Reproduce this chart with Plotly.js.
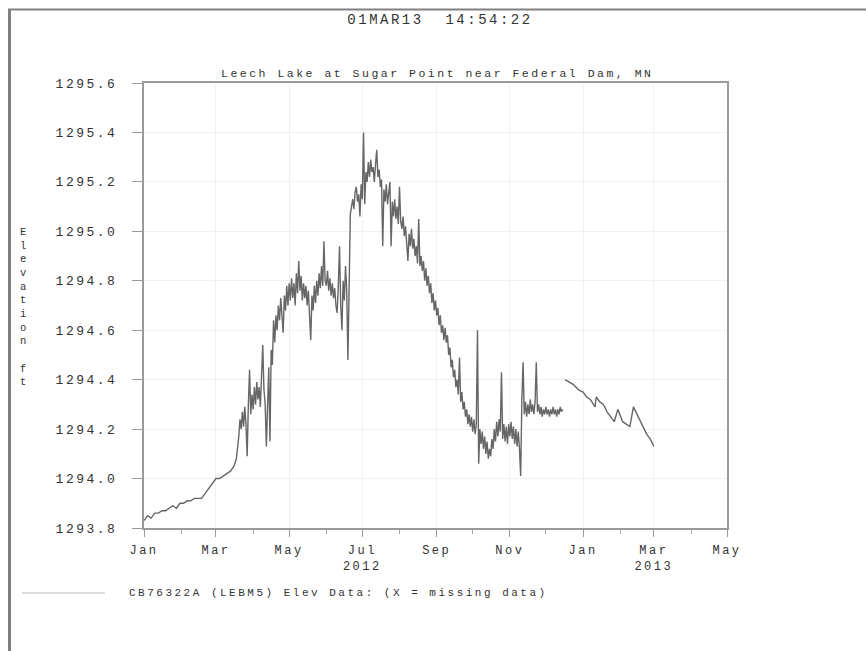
<!DOCTYPE html>
<html>
<head>
<meta charset="utf-8">
<script src="https://cdn.plot.ly/plotly-3.0.1.min.js"></script>
<style>
  html, body { margin: 0; padding: 0; background: #fff; }
  #chart { width: 866px; height: 651px; }
  .gtitle { letter-spacing: 2.5px; }
  .xtick text, .ytick text { letter-spacing: 2.5px; }
  .annotation-text { letter-spacing: 2.5px; }
</style>
</head>
<body>
<div id="chart"></div>
<script>
// ---------------- DATA ----------------
// Jan 1 - Mar 20 2012: smooth slow rise
const janMarDates = ['2012-01-01','2012-01-04','2012-01-07','2012-01-10','2012-01-13','2012-01-16','2012-01-19',
  '2012-01-22','2012-01-25','2012-01-28','2012-01-31','2012-02-03','2012-02-06','2012-02-09','2012-02-12',
  '2012-02-15','2012-02-18','2012-02-21','2012-02-24','2012-02-27','2012-03-01','2012-03-04','2012-03-07',
  '2012-03-10','2012-03-13','2012-03-16','2012-03-18','2012-03-20'];
const janMarElev = [1293.83,1293.85,1293.84,1293.86,1293.86,1293.87,1293.87,
  1293.88,1293.89,1293.88,1293.90,1293.90,1293.91,1293.91,1293.92,
  1293.92,1293.92,1293.94,1293.96,1293.98,1294.00,1294.00,1294.01,
  1294.02,1294.03,1294.05,1294.08,1294.17];

// Daily readings, noisy part of 2012
const start2012Mar = '2012-03-21';
const elevMar2012 = [1294.24,1294.20,1294.27,1294.21,1294.29,1294.22,1294.09,1294.30,1294.44,1294.26,1294.34];
const start2012Apr = '2012-04-01';
const elevApr2012 = [1294.28,1294.37,1294.30,1294.39,1294.32,1294.37,1294.29,1294.41,1294.54,1294.36,
  1294.30,1294.13,1294.36,1294.45,1294.15,1294.52,1294.46,1294.64,1294.55,1294.66,
  1294.60,1294.70,1294.64,1294.73,1294.66,1294.59,1294.74,1294.68,1294.78,1294.70];
const start2012May = '2012-05-01';
const elevMay2012 = [1294.79,1294.72,1294.81,1294.73,1294.79,1294.70,1294.83,1294.75,1294.88,1294.76,
  1294.82,1294.72,1294.79,1294.73,1294.78,1294.70,1294.76,1294.66,1294.56,1294.74,
  1294.68,1294.78,1294.71,1294.80,1294.74,1294.83,1294.77,1294.86,1294.78,1294.96,1294.80];
const start2012Jun = '2012-06-01';
const elevJun2012 = [1294.78,1294.84,1294.76,1294.81,1294.74,1294.79,1294.73,1294.77,1294.70,1294.67,
  1294.78,1294.94,1294.70,1294.60,1294.80,1294.72,1294.86,1294.76,1294.48,1294.82,
  1295.07,1295.10,1295.13,1295.09,1295.16,1295.18,1295.12,1295.15,1295.06,1295.19];
const start2012Jul = '2012-07-01';
const elevJul2012 = [1295.13,1295.40,1295.11,1295.24,1295.20,1295.28,1295.22,1295.29,1295.24,1295.26,
  1295.20,1295.27,1295.33,1295.22,1295.25,1295.18,1295.21,1294.94,1295.17,1295.12,
  1295.19,1295.11,1295.17,1295.20,1294.94,1295.12,1295.06,1295.13,1295.05,1295.10,1295.03];
const start2012Aug = '2012-08-01';
const elevAug2012 = [1295.18,1295.04,1295.01,1295.06,1294.98,1295.02,1294.95,1294.88,1294.99,1294.94,
  1295.01,1294.93,1294.97,1294.90,1294.94,1294.87,1295.05,1294.86,1294.90,1294.84,
  1294.88,1294.80,1294.85,1294.78,1294.82,1294.75,1294.79,1294.71,1294.75,1294.68,1294.72];
const start2012Sep = '2012-09-01';
const elevSep2012 = [1294.66,1294.69,1294.62,1294.66,1294.59,1294.62,1294.56,1294.61,1294.55,1294.58,
  1294.50,1294.53,1294.45,1294.48,1294.41,1294.44,1294.37,1294.40,1294.34,1294.49,
  1294.31,1294.35,1294.28,1294.31,1294.25,1294.28,1294.22,1294.26,1294.21,1294.25];
const start2012Oct = '2012-10-01';
const elevOct2012 = [1294.19,1294.24,1294.18,1294.22,1294.60,1294.06,1294.20,1294.14,1294.19,1294.12,
  1294.17,1294.10,1294.15,1294.08,1294.12,1294.09,1294.16,1294.12,1294.20,1294.15,
  1294.23,1294.17,1294.24,1294.19,1294.43,1294.16,1294.22,1294.15,1294.21,1294.14,1294.22];
const start2012Nov = '2012-11-01';
const elevNov2012 = [1294.17,1294.23,1294.16,1294.21,1294.14,1294.20,1294.13,1294.19,1294.12,1294.01,
  1294.32,1294.47,1294.26,1294.31,1294.25,1294.30,1294.26,1294.32,1294.27,1294.30,
  1294.26,1294.31,1294.47,1294.27,1294.30,1294.26,1294.29,1294.25,1294.28,1294.26];
const start2012Dec = '2012-12-01';
const elevDec2012 = [1294.29,1294.26,1294.28,1294.25,1294.28,1294.26,1294.29,1294.26,1294.28,1294.25,
  1294.28,1294.26,1294.29,1294.27,1294.28];

// Winter segment after the data gap
const winterDates = ['2012-12-17','2012-12-20','2012-12-24','2012-12-28','2013-01-01','2013-01-04','2013-01-07',
  '2013-01-11','2013-01-12','2013-01-15','2013-01-18','2013-01-21','2013-01-24','2013-01-27','2013-01-30',
  '2013-02-03','2013-02-06','2013-02-09','2013-02-12','2013-02-15','2013-02-17','2013-02-20','2013-02-23',
  '2013-02-26','2013-03-01'];
const winterElev = [1294.40,1294.39,1294.38,1294.36,1294.35,1294.33,1294.32,
  1294.29,1294.33,1294.31,1294.30,1294.27,1294.25,1294.23,1294.28,
  1294.23,1294.22,1294.21,1294.29,1294.26,1294.24,1294.21,1294.18,
  1294.16,1294.13];

// Axis ticks
const xTickVals = ['2012-01-01','2012-03-01','2012-05-01','2012-07-01','2012-09-01','2012-11-01','2013-01-01','2013-03-01','2013-05-01'];
const xTickText = ['Jan','Mar','May','Jul<br>2012','Sep','Nov','Jan','Mar<br>2013','May'];
const xMinorVals = ['2012-02-01','2012-04-01','2012-06-01','2012-08-01','2012-10-01','2012-12-01','2013-02-01','2013-04-01'];
const yTickVals = [1293.8,1294.0,1294.2,1294.4,1294.6,1294.8,1295.0,1295.2,1295.4,1295.6];
const yTickText = ['1293.8','1294.0','1294.2','1294.4','1294.6','1294.8','1295.0','1295.2','1295.4','1295.6'];

const headerText = '01MAR13\u00a0\u00a014:54:22';
const subTitleText = 'Leech Lake at Sugar Point near Federal Dam, MN';
const legendText = 'CB76322A (LEBM5) Elev Data: (X = missing data)';
const yTitleText = 'Elevation ft';

// ---------------- BUILD ----------------
function addDays(iso, n) {
  const d = new Date(iso + 'T00:00:00Z');
  d.setUTCDate(d.getUTCDate() + n);
  return d.toISOString().slice(0, 10);
}
const dailyBlocks = [
  [start2012Mar, elevMar2012], [start2012Apr, elevApr2012], [start2012May, elevMay2012],
  [start2012Jun, elevJun2012], [start2012Jul, elevJul2012], [start2012Aug, elevAug2012],
  [start2012Sep, elevSep2012], [start2012Oct, elevOct2012], [start2012Nov, elevNov2012],
  [start2012Dec, elevDec2012]
];
let x2012 = janMarDates.slice();
let y2012 = janMarElev.slice();
dailyBlocks.forEach(([s, arr]) => {
  arr.forEach((v, i) => { x2012.push(addDays(s, i)); y2012.push(v); });
});

const lineStyle = { color: '#666666', width: 1.4 };
const traces = [
  { type: 'scatter', mode: 'lines', x: x2012, y: y2012, line: lineStyle, showlegend: false, hoverinfo: 'skip' },
  { type: 'scatter', mode: 'lines', x: winterDates, y: winterElev, line: lineStyle, showlegend: false, hoverinfo: 'skip' }
];

const mono = 'Liberation Mono, DejaVu Sans Mono, monospace';
const txt = '#333';

// pixel -> paper helpers for decorations outside the plot area
const L = 144, R = 139, T = 83, B = 123, W = 866, H = 651;
const pw = W - L - R, ph = H - T - B;
const px = v => (v - L) / pw;
const py = v => (H - B - v) / ph;

const layout = {
  width: W, height: H,
  margin: { l: L, r: R, t: T, b: B },
  paper_bgcolor: '#fff', plot_bgcolor: '#fff',
  showlegend: false,
  title: {
    text: headerText,
    font: { family: mono, size: 14, color: txt },
    xref: 'container', x: 440 / W, xanchor: 'center',
    yref: 'container', y: 1 - 19 / H, yanchor: 'middle'
  },
  xaxis: {
    type: 'date',
    range: ['2012-01-01', '2013-05-01'],
    tickmode: 'array', tickvals: xTickVals, ticktext: xTickText,
    ticks: 'outside', ticklen: 7, tickwidth: 1, tickcolor: '#999',
    ticklabelstandoff: 3,
    minor: { tickmode: 'array', tickvals: xMinorVals, ticks: 'outside', ticklen: 4, tickcolor: '#aaa', showgrid: false },
    showline: true, mirror: true, linecolor: '#9a9a9a', linewidth: 2,
    showgrid: true, gridcolor: '#f0f0f0', gridwidth: 1,
    zeroline: false, fixedrange: true,
    tickfont: { family: mono, size: 12, color: txt }
  },
  yaxis: {
    range: [1293.8, 1295.6],
    tickmode: 'array', tickvals: yTickVals, ticktext: yTickText,
    ticks: 'outside', ticklen: 10, tickwidth: 1, tickcolor: '#999',
    ticklabelstandoff: 12,
    showline: true, mirror: true, linecolor: '#9a9a9a', linewidth: 2,
    showgrid: true, gridcolor: '#f0f0f0', gridwidth: 1,
    zeroline: false, fixedrange: true,
    tickfont: { family: mono, size: 13, color: txt }
  },
  annotations: [
    { text: subTitleText, xref: 'paper', yref: 'paper', x: px(437), y: 1, xanchor: 'center', yanchor: 'bottom',
      yshift: 1, showarrow: false, font: { family: mono, size: 11.5, color: txt } },
    { text: yTitleText.split('').map(c => c === ' ' ? '\u00a0' : c).join('<br>'),
      xref: 'paper', yref: 'paper', x: px(24), y: py(307), xanchor: 'center', yanchor: 'middle',
      showarrow: false, align: 'center', font: { family: mono, size: 10.5, color: txt } },
    { text: legendText, xref: 'paper', yref: 'paper', x: px(127), y: py(593), xanchor: 'left', yanchor: 'middle',
      showarrow: false, font: { family: mono, size: 11, color: txt } }
  ],
  shapes: [
    // outer frame (left and top)
    { type: 'line', xref: 'paper', yref: 'paper', x0: px(9.5), x1: px(9.5), y0: py(9), y1: py(660),
      line: { color: '#808080', width: 3 } },
    { type: 'line', xref: 'paper', yref: 'paper', x0: px(8), x1: px(870), y0: py(9.5), y1: py(9.5),
      line: { color: '#808080', width: 2 } },
    // legend sample line
    { type: 'line', xref: 'paper', yref: 'paper', x0: px(22), x1: px(105), y0: py(593), y1: py(593),
      line: { color: '#cfcfcf', width: 1.5 } }
  ]
};

Plotly.newPlot('chart', traces, layout, { staticPlot: true, displayModeBar: false });
</script>
</body>
</html>
